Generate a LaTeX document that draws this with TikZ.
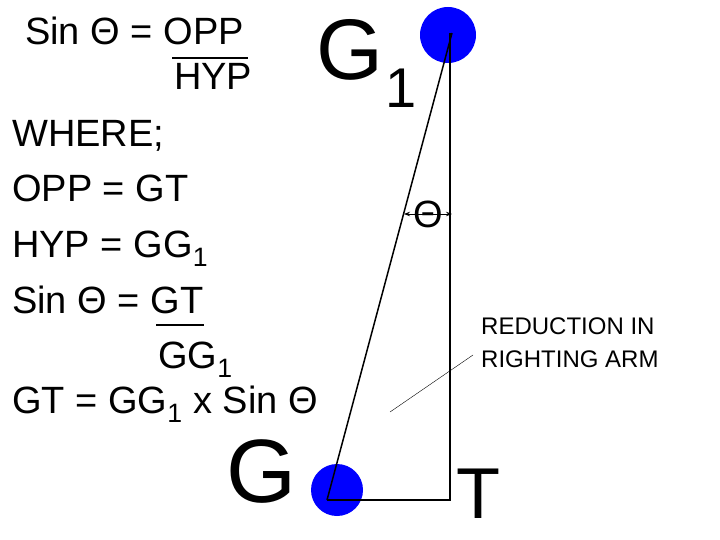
\documentclass[tikz,border=0pt]{standalone}
\usepackage{fontspec}
\setmainfont{Liberation Sans}
\usetikzlibrary{arrows.meta}
\begin{document}
\begin{tikzpicture}[x=1pt,y=-1pt,
  txt/.style={anchor=base west,inner sep=0pt,font=\fontsize{38}{44}\selectfont},
  small/.style={anchor=base west,inner sep=0pt,font=\fontsize{24}{28}\selectfont},
  dot/.style={circle,fill=blue,inner sep=0pt,minimum size=#1}]
\useasboundingbox (0,0) rectangle (720,540);
\node[dot=56pt] (c1) at (448,35) {};
\node[dot=52pt] (c2) at (337,490) {};
\coordinate (G) at (327,500);
\coordinate (Tc) at (450,500);
\coordinate (G1) at (452,33);
\coordinate (V) at (450,33);
\draw[line width=1.5pt] (G) -- (G1);
\draw[line width=1.5pt] (V) -- (Tc) -- (G);
\coordinate (a1) at (404,214); \coordinate (a2) at (452,214);
\draw[{Stealth[length=6pt]}-{Stealth[length=6pt]},line width=0.8pt] (a1) -- (a2);
\node[anchor=center,inner sep=0pt,font=\fontsize{38}{44}\selectfont] (th) at (428,214) {Θ};
\coordinate (l1) at (390,412); \coordinate (l2) at (473,355);
\draw[line width=0.4pt] (l1) -- (l2);
\node[txt] (t1) at (25,45) {Sin Θ = OPP};
\coordinate (b1) at (172,58); \coordinate (b2) at (248,58);
\draw[line width=1.2pt] (b1) -- (b2);
\node[txt] (t2) at (174,90) {HYP};
\node[txt] (t3) at (12,147) {WHERE;};
\node[txt] (t4) at (12,202) {OPP = GT};
\node[txt] (t5) at (12,257) {HYP = GG\textsubscript{1}};
\node[txt] (t6) at (12,313) {Sin Θ = GT};
\coordinate (b3) at (156,325); \coordinate (b4) at (204,325);
\draw[line width=1.2pt] (b3) -- (b4);
\node[txt] (t7) at (158,368) {GG\textsubscript{1}};
\node[txt] (t8) at (12,413) {GT = GG\textsubscript{1} x Sin Θ};
\node[anchor=base west,inner sep=0pt,font=\fontsize{86}{100}\selectfont] (g1) at (316,80) {G};
\node[anchor=base west,inner sep=0pt,font=\fontsize{56}{64}\selectfont] (s1) at (385,108) {1};
\node[anchor=base west,inner sep=0pt,font=\fontsize{90}{110}\selectfont] (g) at (226,502) {G};
\node[anchor=base west,inner sep=0pt,font=\fontsize{72}{80}\selectfont] (t) at (456,518) {T};
\node[small] (r1) at (481,334) {REDUCTION IN};
\node[small] (r2) at (481,367) {RIGHTING ARM};
\end{tikzpicture}
\end{document}
